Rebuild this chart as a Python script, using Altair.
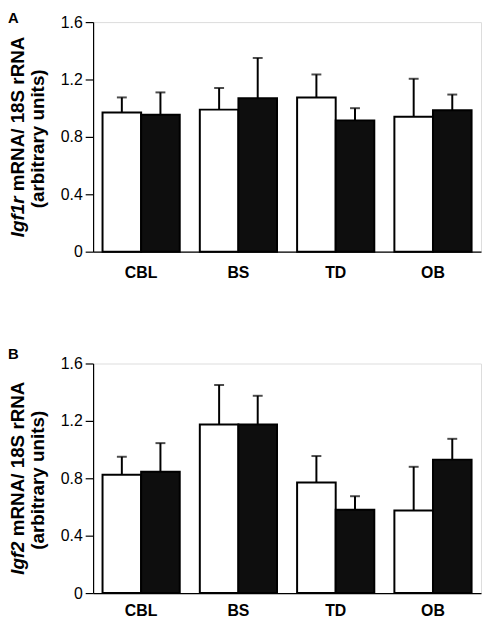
import altair as alt
import pandas as pd

regions = ["CBL", "BS", "TD", "OB"]
groups = ["open", "filled"]

# Panel A: Igf1r
a_open_mean = [0.97, 0.99, 1.075, 0.94]
a_open_se = [0.105, 0.15, 0.16, 0.265]
a_filled_mean = [0.955, 1.07, 0.915, 0.985]
a_filled_se = [0.155, 0.28, 0.085, 0.11]

# Panel B: Igf2
b_open_mean = [0.825, 1.175, 0.77, 0.575]
b_open_se = [0.125, 0.275, 0.185, 0.305]
b_filled_mean = [0.845, 1.175, 0.58, 0.93]
b_filled_se = [0.2, 0.2, 0.095, 0.145]

y_ticks = [0, 0.4, 0.8, 1.2, 1.6]
title_rest = "mRNA/ 18S rRNA"
title_line2 = "(arbitrary units)"

FONT = "Liberation Sans"
W, H = 392, 232
TFS = 19


def one_row(text):
    return alt.Data(values=[{"t": text}])


def panel(open_mean, open_se, filled_mean, filled_se, gene, letter,
          split_y, letter_y, label_pad, bottom_extent):
    rows = []
    for i, r in enumerate(regions):
        rows.append({"region": r, "group": "open", "mean": open_mean[i],
                     "top": open_mean[i] + open_se[i]})
        rows.append({"region": r, "group": "filled", "mean": filled_mean[i],
                     "top": filled_mean[i] + filled_se[i]})
    df = pd.DataFrame(rows)

    xenc = alt.X("region:N", sort=regions,
                 scale=alt.Scale(paddingInner=0.2065, paddingOuter=0.097),
                 axis=alt.Axis(title=None, labelAngle=0, labelFontSize=16,
                               labelFontWeight="bold", labelColor="black",
                               labelFont=FONT, ticks=False, tickSize=0,
                               labelPadding=label_pad, domainColor="black",
                               domainWidth=1.2))
    xoff = alt.XOffset("group:N", sort=groups,
                       scale=alt.Scale(paddingInner=0, paddingOuter=0))
    yscale = alt.Scale(domain=[0, 1.6])

    base = alt.Chart(df).encode(x=xenc, xOffset=xoff)
    bars = base.mark_bar(stroke="black", strokeWidth=2).encode(
        y=alt.Y("mean:Q", scale=yscale,
                axis=alt.Axis(title=None, values=y_ticks, grid=False,
                              labelExpr="datum.value == 0 ? '0' : format(datum.value, '.1f')",
                              labelFontSize=16, labelColor="black", labelFont=FONT,
                              tickSize=8, tickColor="black", tickWidth=1.2,
                              labelPadding=3, domainColor="black", domainWidth=1.2)),
        fill=alt.Fill("group:N", scale=alt.Scale(domain=groups, range=["white", "#0e0e0e"]),
                      legend=None),
    )
    rules = base.mark_rule(color="black", strokeWidth=2).encode(
        y=alt.Y("mean:Q", scale=yscale), y2="top:Q")
    caps = base.mark_tick(orient="horizontal", size=10, thickness=2, color="black").encode(
        y=alt.Y("top:Q", scale=yscale))

    t_gene = alt.Chart(one_row(gene)).mark_text(
        angle=270, align="right", baseline="alphabetic", fontSize=TFS,
        fontWeight="bold", fontStyle="italic", font=FONT, color="black"
    ).encode(text="t:N", x=alt.value(-70), y=alt.value(split_y))
    t_rest = alt.Chart(one_row(title_rest)).mark_text(
        angle=270, align="left", baseline="alphabetic", fontSize=TFS,
        fontWeight="bold", font=FONT, color="black"
    ).encode(text="t:N", x=alt.value(-70), y=alt.value(split_y - 5.3))
    t_line2 = alt.Chart(one_row(title_line2)).mark_text(
        angle=270, align="center", baseline="alphabetic", fontSize=TFS,
        fontWeight="bold", font=FONT, color="black"
    ).encode(text="t:N", x=alt.value(-50), y=alt.value(H / 2 + 2))
    t_letter = alt.Chart(one_row(letter)).mark_text(
        align="left", baseline="alphabetic", fontSize=15,
        fontWeight="bold", font=FONT, color="black"
    ).encode(text="t:N", x=alt.value(-86), y=alt.value(letter_y))
    # invisible frame rule that fixes the panel's outer bounds
    frame = alt.Chart(one_row("")).mark_rule(opacity=0, strokeWidth=0).encode(
        x=alt.value(-100), x2=alt.value(-100),
        y=alt.value(-20), y2=alt.value(H + bottom_extent))

    return alt.layer(bars, rules, caps, t_gene, t_rest, t_line2, t_letter, frame).properties(
        width=W, height=H)


pa = panel(a_open_mean, a_open_se, a_filled_mean, a_filled_se, "Igf1r", "A",
           176.2, 1, 13, 30)
pb = panel(b_open_mean, b_open_se, b_filled_mean, b_filled_se, "Igf2", "B",
           179.8, -5, 10, 24)

chart = alt.vconcat(pa, pb, spacing=61).properties(
    padding={"left": -15, "top": -10, "right": 0, "bottom": 0}
).configure_view(stroke=None).configure(font=FONT)

chart.save("out.html", embed_options={"renderer": "svg", "actions": False})
